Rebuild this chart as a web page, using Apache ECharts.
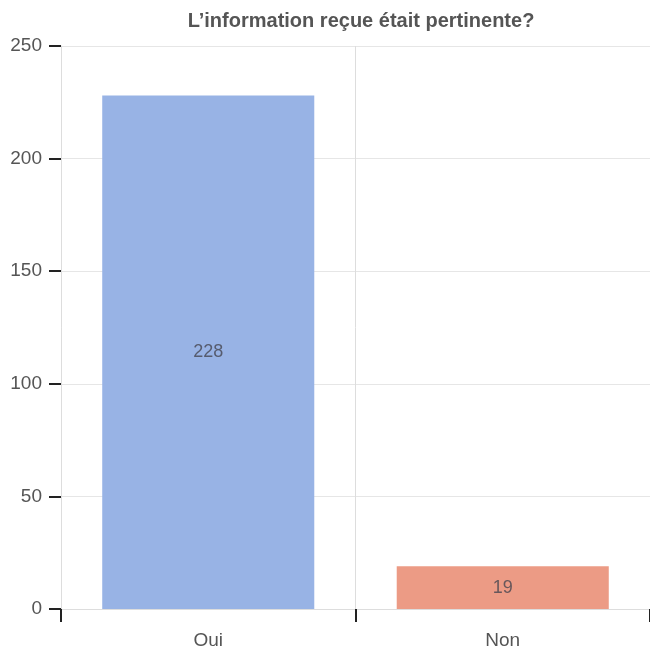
<!DOCTYPE html>
<html>
<head>
<meta charset="utf-8">
<style>
  html, body { margin: 0; padding: 0; background: #fff; }
  #chart { width: 650px; height: 650px; }
</style>
<script src="https://cdn.jsdelivr.net/npm/echarts@6/dist/echarts.min.js"></script>
</head>
<body>
<div id="chart"></div>
<script>
// Survey answers
const categories = ['Oui', 'Non'];
const counts = [228, 19];
const barColors = ['#98b3e5', '#ec9b85'];
const yTicks = { min: 0, max: 250, interval: 50 };

const FONT = 'Liberation Sans, Arial, sans-serif';
const chart = echarts.init(document.getElementById('chart'), null, { renderer: 'canvas' });

chart.setOption({
  animation: false,
  title: {
    text: 'L\u2019information reçue était pertinente?',
    left: 356,
    textAlign: 'center',
    top: 6,
    textStyle: {
      fontFamily: FONT,
      fontSize: 20,
      fontWeight: 'bold',
      color: '#555'
    }
  },
  grid: { left: 61, right: -5, top: 46, bottom: 41, containLabel: false },
  xAxis: {
    type: 'category',
    data: categories,
    boundaryGap: true,
    axisLine: { show: true, lineStyle: { color: '#ddd', width: 1 } },
    axisTick: { show: true, alignWithLabel: false, length: 13, lineStyle: { color: '#222', width: 2 } },
    axisLabel: {
      margin: 22,
      fontFamily: FONT,
      fontSize: 19,
      color: '#555'
    },
    splitLine: { show: true, lineStyle: { color: '#ddd', width: 1 } }
  },
  yAxis: {
    type: 'value',
    min: yTicks.min,
    max: yTicks.max,
    interval: yTicks.interval,
    axisLine: { show: true, lineStyle: { color: '#ddd', width: 1 } },
    axisTick: { show: true, length: 12, lineStyle: { color: '#222', width: 2 } },
    axisLabel: {
      margin: 19,
      fontFamily: FONT,
      fontSize: 19,
      color: '#555'
    },
    splitLine: { show: true, lineStyle: { color: '#e6e6e6', width: 1 } }
  },
  series: [{
    type: 'bar',
    data: counts.map((v, i) => ({ value: v, itemStyle: { color: barColors[i] } })),
    barCategoryGap: '28%',
    label: {
      show: true,
      position: 'inside',
      fontFamily: FONT,
      fontSize: 18,
      color: 'rgba(70,70,80,0.8)'
    }
  }]
});
</script>
</body>
</html>
